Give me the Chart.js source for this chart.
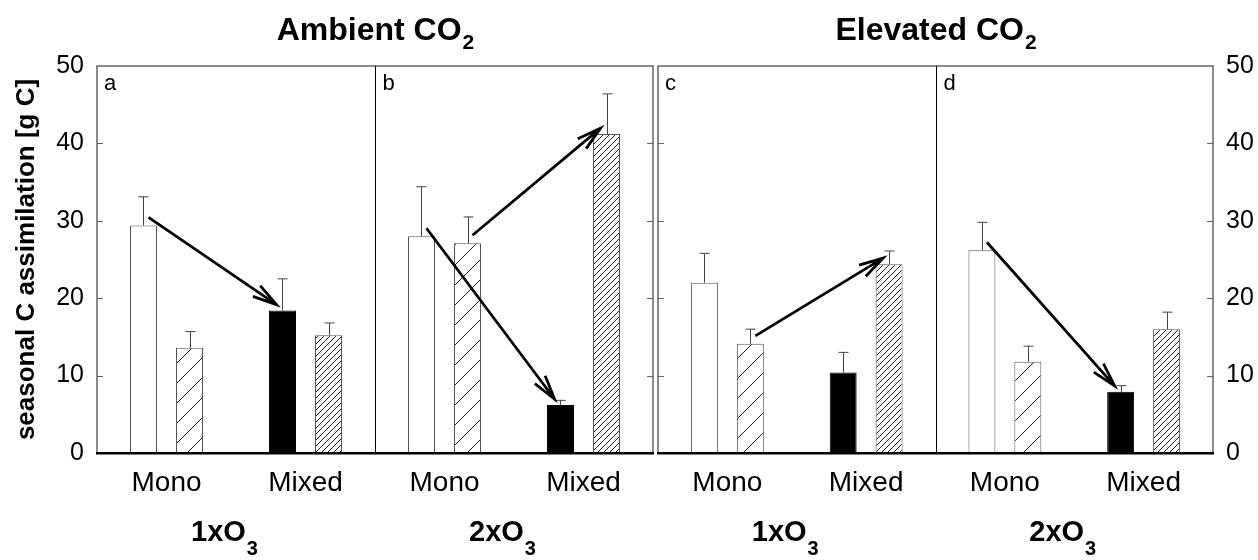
<!DOCTYPE html>
<html>
<head>
<meta charset="utf-8">
<script src="https://cdn.jsdelivr.net/npm/chart.js@4.4.1/dist/chart.umd.min.js"></script>
<style>
  html, body { margin: 0; padding: 0; background: #fff; }
  #wrap { position: relative; width: 1258px; height: 560px; }
  canvas { position: absolute; top: 0; }
</style>
</head>
<body>
<div id="wrap">
  <canvas id="ambient" width="656" height="560" style="left:0"></canvas>
  <canvas id="elevated" width="602" height="560" style="left:656px"></canvas>
</div>
<script>
const categories = ['Mono', 'Mixed'];
const panelLetters = ['a', 'b', 'c', 'd'];
const groupTitles = ['Ambient CO', 'Elevated CO'];
const ozoneLabels = ['1xO', '2xO', '1xO', '2xO'];
const yTicks = [0, 10, 20, 30, 40, 50];

// panels a..d, each [Mono, Mixed]
// plain bars: white in Mono, black in Mixed
const plainMean = [29.4, 18.4, 28.0, 6.2, 22.0, 10.4, 26.2, 7.9];
const plainErr = [3.7, 4.1, 6.4, 0.6, 3.8, 2.6, 3.6, 0.8];
// hatched bars: wide hatch in Mono, dense hatch in Mixed
const hatchMean = [13.6, 15.2, 27.1, 41.2, 14.1, 24.4, 11.8, 16.0];
const hatchErr = [2.1, 1.6, 3.4, 5.2, 1.9, 1.7, 2.0, 2.2];

// [panel, from category, from series, to category, to series]  (series 0 = plain, 1 = hatched)
const arrows = [
  [0, 0, 0, 1, 0],
  [1, 0, 0, 1, 0],
  [1, 0, 1, 1, 1],
  [2, 0, 1, 1, 1],
  [3, 0, 0, 1, 0]
];

const FONT = "'Liberation Sans', Arial, sans-serif";
Chart.defaults.font.family = FONT;

function hatch(ctx, period) {
  const c = document.createElement('canvas');
  c.width = c.height = period;
  const g = c.getContext('2d');
  g.fillStyle = '#fff';
  g.fillRect(0, 0, period, period);
  g.strokeStyle = '#222';
  g.lineWidth = 1;
  g.beginPath();
  g.moveTo(-1, period + 1); g.lineTo(period + 1, -1);
  g.moveTo(-1, 1); g.lineTo(1, -1);
  g.moveTo(period - 1, period + 1); g.lineTo(period + 1, period - 1);
  g.stroke();
  return ctx.createPattern(c, 'repeat');
}

function subText(ctx, main, sub, cx, base, size, subSize, dy) {
  ctx.font = 'bold ' + size + 'px ' + FONT;
  const w1 = ctx.measureText(main).width;
  ctx.font = 'bold ' + subSize + 'px ' + FONT;
  const w2 = ctx.measureText(sub).width;
  const x0 = cx - (w1 + w2) / 2;
  ctx.textAlign = 'left';
  ctx.textBaseline = 'alphabetic';
  ctx.font = 'bold ' + size + 'px ' + FONT;
  ctx.fillText(main, x0, base);
  ctx.font = 'bold ' + subSize + 'px ' + FONT;
  ctx.fillText(sub, x0 + w1 + 1, base + dy);
}

function drawArrow(ctx, x1, y1, x2, y2) {
  const ang = Math.atan2(y2 - y1, x2 - x1);
  const len = 25, spread = Math.PI / 12;
  ctx.beginPath();
  ctx.moveTo(x1, y1);
  ctx.lineTo(x2, y2);
  ctx.moveTo(x2 - len * Math.cos(ang - spread), y2 - len * Math.sin(ang - spread));
  ctx.lineTo(x2, y2);
  ctx.lineTo(x2 - len * Math.cos(ang + spread), y2 - len * Math.sin(ang + spread));
  ctx.stroke();
}

const panelFrame = {
  id: 'panelFrame',
  afterDatasetsDraw(chart, args, opts) {
    const g = opts.group;
    const {ctx, chartArea: {left, right, top, bottom}} = chart;
    const x = chart.scales.x, y = chart.scales.y;
    const off = g * 4;
    ctx.save();

    // error bars (upper only)
    [[plainMean, plainErr], [hatchMean, hatchErr]].forEach(([means, errs], ds) => {
      chart.getDatasetMeta(ds).data.forEach((el, i) => {
        const px = Math.round(el.x) + 0.5;
        const top2 = y.getPixelForValue(means[off + i] + errs[off + i]);
        ctx.strokeStyle = '#444';
        ctx.lineWidth = 1;
        ctx.beginPath();
        ctx.moveTo(px, el.y);
        ctx.lineTo(px, top2);
        ctx.moveTo(px - 5, top2);
        ctx.lineTo(px + 5, top2);
        ctx.stroke();
      });
    });

    // arrows between Mono and Mixed bars
    ctx.strokeStyle = '#000';
    ctx.lineWidth = 2.8;
    arrows.filter(a => Math.floor(a[0] / 2) === g).forEach(a => {
      const p = a[0] % 2;
      const from = chart.getDatasetMeta(a[2]).data[p * 2 + a[1]];
      const to = chart.getDatasetMeta(a[4]).data[p * 2 + a[3]];
      drawArrow(ctx, from.x + 5, from.y - 8, to.x - 6, to.y - 6);
    });

    // frame, panel divider, inward ticks
    ctx.strokeStyle = '#666';
    ctx.lineWidth = 1.5;
    ctx.strokeRect(left, top, right - left, bottom - top);
    const mid = Math.round(x.getPixelForValue(1.5)) + 0.5;
    ctx.strokeStyle = '#000';
    ctx.lineWidth = 1;
    ctx.beginPath();
    ctx.moveTo(mid, top);
    ctx.lineTo(mid, bottom);
    ctx.stroke();
    ctx.strokeStyle = '#666';
    ctx.beginPath();
    yTicks.slice(1, -1).forEach(v => {
      const py = Math.round(y.getPixelForValue(v)) + 0.5;
      ctx.moveTo(left, py); ctx.lineTo(left + 6, py);
      ctx.moveTo(right - 6, py); ctx.lineTo(right, py);
    });
    ctx.stroke();

    // x axis line
    ctx.fillStyle = '#000';
    ctx.fillRect(left - 1, bottom - 1, right - left + 2, 2.5);

    // panel letters and ozone labels
    ctx.textBaseline = 'alphabetic';
    [0, 1].forEach(p => {
      const pl = p === 0 ? left : mid;
      ctx.textAlign = 'left';
      ctx.font = '22px ' + FONT;
      ctx.fillText(panelLetters[g * 2 + p], pl + 7, 90);
      const cx = (x.getPixelForValue(p * 2) + x.getPixelForValue(p * 2 + 1)) / 2 - 12;
      subText(ctx, ozoneLabels[g * 2 + p], '3', cx, 541, 29, 20, 14);
    });

    // group title
    subText(ctx, groupTitles[g], '2', (left + right) / 2, 40, 32, 21, 9);
    ctx.restore();
  }
};

function makeGroup(id, g) {
  const canvas = document.getElementById(id);
  const ctx = canvas.getContext('2d');
  const sparse = hatch(ctx, 20);
  const dense = hatch(ctx, 6);
  const s = g * 4;
  return new Chart(ctx, {
    type: 'bar',
    data: {
      labels: categories.concat(categories),
      datasets: [
        {
          label: 'plain',
          data: plainMean.slice(s, s + 4),
          backgroundColor: ['#fff', '#000', '#fff', '#000'],
          borderColor: ['#555', '#000', '#555', '#000'],
          borderWidth: 1,
          categoryPercentage: 0.662,
          barPercentage: 0.587
        },
        {
          label: 'hatched',
          data: hatchMean.slice(s, s + 4),
          backgroundColor: [sparse, dense, sparse, dense],
          borderColor: '#555',
          borderWidth: 1,
          categoryPercentage: 0.662,
          barPercentage: 0.587
        }
      ]
    },
    options: {
      responsive: false,
      animation: false,
      devicePixelRatio: 1,
      layout: {
        padding: g === 0 ? {top: 66, left: 0, right: 3, bottom: 0} : {top: 66, left: 2, right: 0, bottom: 0}
      },
      plugins: {
        legend: {display: false},
        tooltip: {enabled: false},
        panelFrame: {group: g}
      },
      scales: {
        x: {
          grid: {display: false, drawTicks: false},
          border: {display: false},
          ticks: {font: {size: 28}, color: '#000', padding: 13, maxRotation: 0, autoSkip: false},
          afterFit: sc => { sc.height = 107; }
        },
        y: {
          position: g === 0 ? 'left' : 'right',
          min: 0,
          max: 50,
          grid: {display: false, drawTicks: false},
          border: {display: false},
          ticks: {stepSize: 10, font: {size: 25}, color: '#000', padding: 13},
          title: {
            display: g === 0,
            text: 'seasonal C assimilation [g C]',
            font: {size: 26, weight: 'bold'},
            color: '#000',
            padding: {top: 11, bottom: 0}
          },
          afterFit: sc => { sc.width = g === 0 ? 97 : 45; }
        }
      }
    },
    plugins: [panelFrame]
  });
}

makeGroup('ambient', 0);
makeGroup('elevated', 1);
</script>
</body>
</html>
